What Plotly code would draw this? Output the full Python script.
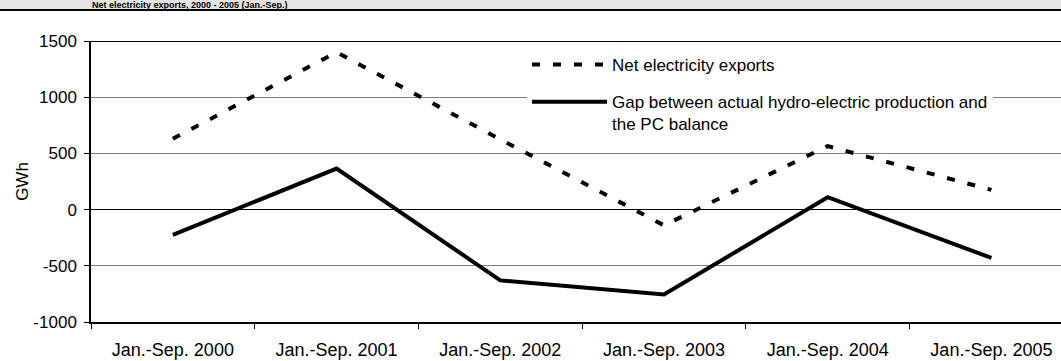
import plotly.graph_objects as go

# Periods and series (GWh)
periods = ["Jan.-Sep. 2000", "Jan.-Sep. 2001", "Jan.-Sep. 2002",
           "Jan.-Sep. 2003", "Jan.-Sep. 2004", "Jan.-Sep. 2005"]
net_exports = [630, 1400, 625, -140, 565, 175]
hydro_gap = [-225, 365, -630, -755, 110, -430]

y_ticks = [-1000, -500, 0, 500, 1000, 1500]
y_tick_text = ["-1000", "-500", "0", "500", "1000", "1500"]

name_exports = "Net electricity exports"
name_gap = "Gap between actual hydro-electric production and<br>the PC balance"
title_text = "Net electricity exports, 2000 - 2005 (Jan.-Sep.)"

FONT = "Liberation Sans, Arial, sans-serif"
W, H = 1061, 361
ML, MR, MT, MB = 91, 0, 41, 39
plot_h = H - MT - MB
plot_w = W - ML - MR


def py(pix):
    """Convert a pixel row (from the top of the page) to paper y."""
    return (H - MB - pix) / plot_h


def px(pix):
    """Convert a pixel column to paper x."""
    return (pix - ML) / plot_w


fig = go.Figure()
fig.add_trace(go.Scatter(
    x=periods, y=net_exports, name=name_exports, mode="lines",
    line=dict(color="black", width=4, dash="8px,13px"),
    legendgroup="a",
))
fig.add_trace(go.Scatter(
    x=periods, y=hydro_gap, name=name_gap, mode="lines",
    line=dict(color="black", width=4),
    legendgroup="b",
))

# Header band across the top of the page
fig.add_shape(type="rect", xref="paper", yref="paper",
              x0=px(0), x1=px(W), y0=py(10), y1=py(-2),
              fillcolor="#e4e4e4", line=dict(width=0), layer="below")
fig.add_shape(type="line", xref="paper", yref="paper",
              x0=px(0), x1=px(W), y0=py(10), y1=py(10),
              line=dict(color="black", width=2))
fig.add_annotation(text="<b>" + title_text + "</b>", xref="paper", yref="paper",
                   x=px(91), y=py(5), xanchor="left", yanchor="middle",
                   showarrow=False, borderpad=0,
                   font=dict(family=FONT, size=9, color="black"))

# Top frame line at 1500
fig.add_shape(type="line", xref="paper", yref="y",
              x0=0, x1=1, y0=1500, y1=1500,
              line=dict(color="black", width=2))

fig.update_layout(
    width=W, height=H,
    margin=dict(l=ML, r=MR, t=MT, b=MB),
    paper_bgcolor="white", plot_bgcolor="white",
    font=dict(family=FONT, color="black", size=17),
    showlegend=True,
    legend=dict(
        x=px(527), y=py(47), xanchor="left", yanchor="top",
        bgcolor="white", borderwidth=0,
        itemwidth=75, valign="top",
        tracegroupgap=12,
        font=dict(family=FONT, size=17, color="black"),
    ),
    xaxis=dict(
        type="category", range=[-0.5, 5.425],
        showline=True, linecolor="black", linewidth=1.5,
        ticks="outside", tickson="boundaries", ticklen=5, tickcolor="black",
        showgrid=False, zeroline=False, automargin=False,
        tickfont=dict(family=FONT, size=18, color="black"),
        ticklabelstandoff=11,
    ),
    yaxis=dict(
        range=[-1000, 1500], tickvals=y_ticks, ticktext=y_tick_text,
        showline=True, linecolor="black", linewidth=1.5,
        ticks="outside", ticklen=5, tickcolor="black",
        showgrid=True, gridcolor="#808080", gridwidth=1,
        zeroline=True, zerolinecolor="black", zerolinewidth=1,
        automargin=False, ticklabelstandoff=4,
        tickfont=dict(family=FONT, size=17, color="black"),
        title=dict(text="GWh", font=dict(family=FONT, size=17, color="black"),
                   standoff=0),
    ),
)

fig.write_html("out.html")
